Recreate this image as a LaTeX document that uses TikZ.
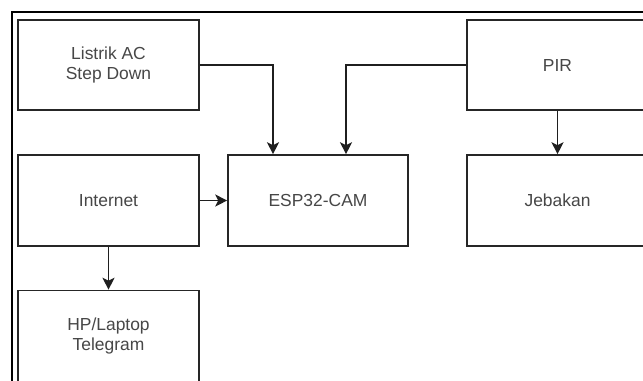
\documentclass[tikz,border=0pt]{standalone}
\usepackage{fontspec}
\setmainfont{Liberation Sans}
\usetikzlibrary{arrows.meta}
\begin{document}
\begin{tikzpicture}[x=1bp,y=-1bp,
  blk/.style={draw=black!85, line width=1.6bp, rectangle, inner sep=0pt, text=black!72,
    font=\fontsize{17.5}{21}\selectfont, align=center},
  conn/.style={draw=black!88, line width=1.6bp, -{Stealth[length=12bp,width=12bp,inset=3bp]}}]
\clip (0,0) rectangle (643,380);
\fill[white] (0,0) rectangle (643,380);
\draw[line width=2.2bp] (12,12) rectangle (700,420);
\node[blk, minimum width=181bp, minimum height=90bp] (listrik) at (108.5,65) {Listrik AC\\Step Down};
\node[blk, minimum width=181bp, minimum height=91bp] (internet) at (108.5,200.5) {Internet};
\node[blk, minimum width=181bp, minimum height=91bp] (hp) at (108.5,336) {HP/Laptop\\Telegram};
\node[blk, minimum width=180bp, minimum height=91bp] (esp) at (318,200.5) {ESP32-CAM};
\node[blk, minimum width=181bp, minimum height=90bp] (pir) at (557.5,65) {PIR};
\node[blk, minimum width=181bp, minimum height=91bp] (jeb) at (557.5,200.5) {Jebakan};
\draw[conn] (listrik.east) -| ([xshift=-45bp]esp.north);
\draw[conn] (pir.west) -| ([xshift=28bp]esp.north);
\draw[conn] (pir.south) -- (jeb.north);
\draw[conn] (internet.east) -- (esp.west);
\draw[conn] (internet.south) -- (hp.north);
\end{tikzpicture}
\end{document}
